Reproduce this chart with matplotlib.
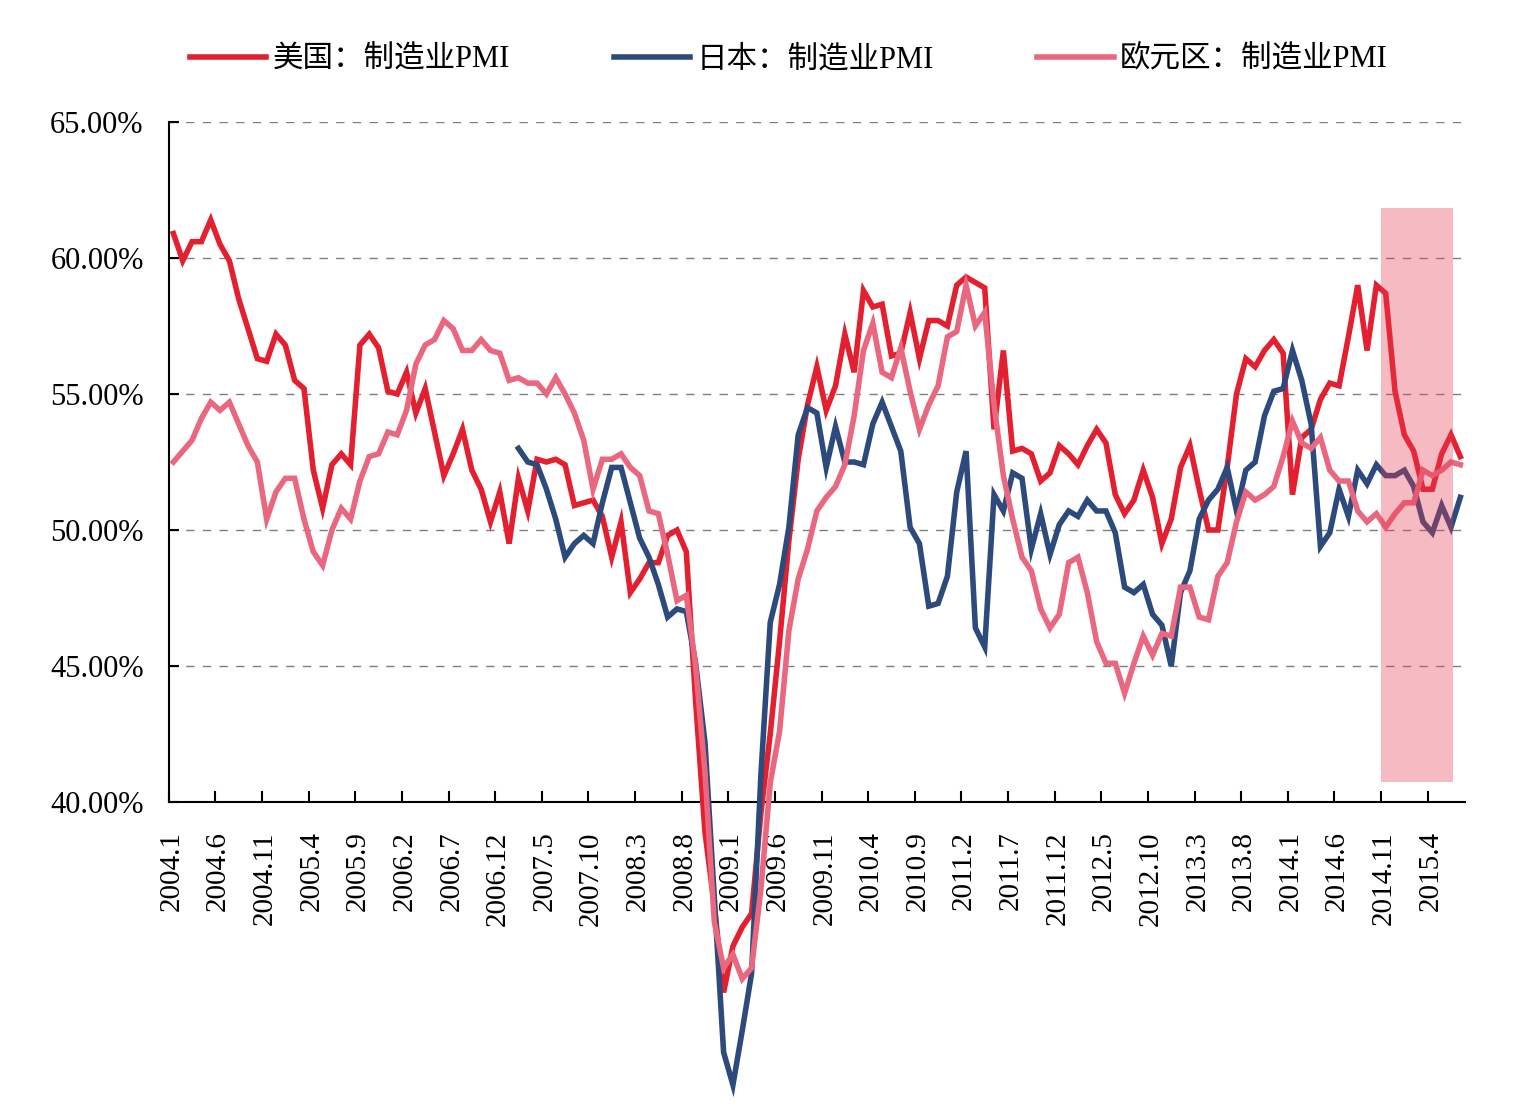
import matplotlib
matplotlib.use("Agg")
import matplotlib.pyplot as plt
import numpy as np
from matplotlib.patches import Rectangle
from matplotlib.ticker import FuncFormatter, FixedLocator

# 月份：2004.1 - 2015.7
months = [f"{y}.{m}" for y in range(2004, 2016) for m in range(1, 13)][:139]

# 美国：制造业PMI
us_pmi = [60.9, 59.9, 60.6, 60.6, 61.4, 60.5, 59.9, 58.5, 57.4, 56.3, 56.2, 57.2,
          56.8, 55.5, 55.2, 52.2, 50.8, 52.4, 52.8, 52.4, 56.8, 57.2, 56.7, 55.1,
          55.0, 55.8, 54.3, 55.2, 53.6, 52.0, 52.8, 53.7, 52.2, 51.5, 50.3, 51.4,
          49.5, 51.9, 50.7, 52.6, 52.5, 52.6, 52.4, 50.9, 51.0, 51.1, 50.5, 49.0,
          50.3, 47.7, 48.2, 48.8, 48.8, 49.8, 50.0, 49.2, 43.7, 38.9, 36.2, 33.0,
          34.7, 35.4, 35.9, 39.6, 42.5, 45.9, 49.6, 52.6, 54.6, 56.0, 54.4, 55.3,
          57.2, 55.8, 58.8, 58.2, 58.3, 56.4, 56.5, 58.0, 56.3, 57.7, 57.7, 57.5,
          59.0, 59.3, 59.1, 58.9, 53.7, 56.6, 52.9, 53.0, 52.8, 51.8, 52.1, 53.1,
          52.8, 52.4, 53.1, 53.7, 53.2, 51.3, 50.6, 51.1, 52.2, 51.2, 49.5, 50.4,
          52.3, 53.1, 51.5, 50.0, 50.0, 52.3, 55.0, 56.3, 56.0, 56.6, 57.0, 56.5,
          51.3, 53.4, 53.7, 54.8, 55.4, 55.3, 57.1, 59.0, 56.6, 59.0, 58.7, 55.1,
          53.5, 52.9, 51.5, 51.5, 52.8, 53.5, 52.7]

# 日本：制造业PMI（2007.2 起）
japan_pmi = [np.nan] * 37 + [
          53.0, 52.5, 52.4, 51.5, 50.4, 49.0, 49.5, 49.8, 49.5, 51.0, 52.3,
          52.3, 51.0, 49.7, 49.0, 48.0, 46.8, 47.1, 47.0, 45.1, 42.2, 36.5, 30.8,
          29.6, 31.6, 33.7, 41.0, 46.6, 48.0, 50.1, 53.5, 54.5, 54.3, 52.3, 53.8,
          52.5, 52.5, 52.4, 53.9, 54.7, 53.8, 52.9, 50.1, 49.5, 47.2, 47.3, 48.3,
          51.4, 52.9, 46.4, 45.7, 51.3, 50.7, 52.1, 51.9, 49.3, 50.6, 49.1, 50.2,
          50.7, 50.5, 51.1, 50.7, 50.7, 49.9, 47.9, 47.7, 48.0, 46.9, 46.5, 45.0,
          47.7, 48.5, 50.4, 51.1, 51.5, 52.3, 50.7, 52.2, 52.5, 54.2, 55.1, 55.2,
          56.6, 55.5, 53.9, 49.4, 49.9, 51.5, 50.5, 52.2, 51.7, 52.4, 52.0, 52.0,
          52.2, 51.6, 50.3, 49.9, 50.9, 50.1, 51.2]

# 欧元区：制造业PMI
euro_pmi = [52.5, 52.9, 53.3, 54.1, 54.7, 54.4, 54.7, 53.9, 53.1, 52.5, 50.4, 51.4,
            51.9, 51.9, 50.4, 49.2, 48.7, 50.0, 50.8, 50.4, 51.8, 52.7, 52.8, 53.6,
            53.5, 54.4, 56.1, 56.8, 57.0, 57.7, 57.4, 56.6, 56.6, 57.0, 56.6, 56.5,
            55.5, 55.6, 55.4, 55.4, 55.0, 55.6, 55.0, 54.3, 53.3, 51.5, 52.6, 52.6,
            52.8, 52.3, 52.0, 50.7, 50.6, 49.1, 47.4, 47.6, 45.0, 41.1, 35.6, 33.9,
            34.4, 33.5, 33.9, 36.8, 40.7, 42.6, 46.3, 48.2, 49.3, 50.7, 51.2, 51.6,
            52.4, 54.2, 56.6, 57.6, 55.8, 55.6, 56.7, 55.1, 53.7, 54.6, 55.3, 57.1,
            57.3, 59.0, 57.5, 58.0, 54.6, 52.0, 50.4, 49.0, 48.5, 47.1, 46.4, 46.9,
            48.8, 49.0, 47.7, 45.9, 45.1, 45.1, 44.0, 45.1, 46.1, 45.4, 46.2, 46.1,
            47.9, 47.9, 46.8, 46.7, 48.3, 48.8, 50.3, 51.4, 51.1, 51.3, 51.6, 52.7,
            54.0, 53.2, 53.0, 53.4, 52.2, 51.8, 51.8, 50.7, 50.3, 50.6, 50.1, 50.6,
            51.0, 51.0, 52.2, 52.0, 52.2, 52.5, 52.4]

series_names = ["美国：制造业PMI", "日本：制造业PMI", "欧元区：制造业PMI"]
series_colors = ["#E3202F", "#2C4A7C", "#E9677F"]

latin = "Liberation Serif"
cjk = ["Liberation Serif", "Noto Sans CJK SC"]

fig = plt.figure(figsize=(15.23, 11.07), dpi=100)
ax = fig.add_axes([0.1108, 0.2755, 0.8511, 0.6143])

x = np.arange(len(months))
lines = []
for vals, name, col in zip([us_pmi, japan_pmi, euro_pmi], series_names, series_colors):
    ln, = ax.plot(x, vals, color=col, lw=4.0, label=name, clip_on=False,
                  zorder=3, solid_joinstyle="miter")
    lines.append(ln)

# 阴影区域
ax.add_patch(Rectangle((129.5, 40.75), 7.7, 21.1, facecolor=(232/255, 60/255, 80/255),
                       alpha=0.35, edgecolor="none", zorder=4))

ax.set_xlim(-0.5, len(months) - 0.5)
ax.set_ylim(40, 65)

# y 轴
ax.set_yticks([40, 45, 50, 55, 60, 65])
ax.yaxis.set_major_formatter(FuncFormatter(lambda v, p: f"{v:.2f}%"))
ax.tick_params(axis="y", direction="in", length=7, width=1.5, pad=18,
               labelsize=22, colors="black")
for lab in ax.get_yticklabels():
    lab.set_fontfamily(latin)

# x 轴：刻度线在分类边界，标签每5个月
label_idx = list(range(0, len(months), 5))
ax.xaxis.set_major_locator(FixedLocator([i - 0.2 for i in label_idx]))
ax.set_xticklabels([months[i] for i in label_idx], rotation=90,
                   fontfamily=latin, fontsize=21)
ax.xaxis.set_minor_locator(FixedLocator([i - 0.5 for i in label_idx]))
ax.tick_params(axis="x", which="major", length=0, pad=21)
ax.tick_params(axis="x", which="minor", direction="in", length=8, width=1.5)

ax.grid(axis="y", linestyle=(0, (6, 6)), color="#7F7F7F", lw=1.0)
for s in ["top", "right"]:
    ax.spines[s].set_visible(False)
for s in ["left", "bottom"]:
    ax.spines[s].set_linewidth(1.5)

fig.legend(handles=lines, loc="center", bbox_to_anchor=(0.518, 0.946), ncol=3,
           frameon=False, prop={"family": cjk, "size": 22},
           handlelength=2.5, handletextpad=0.2, columnspacing=3.4)

fig.savefig("out.png", dpi=100)
